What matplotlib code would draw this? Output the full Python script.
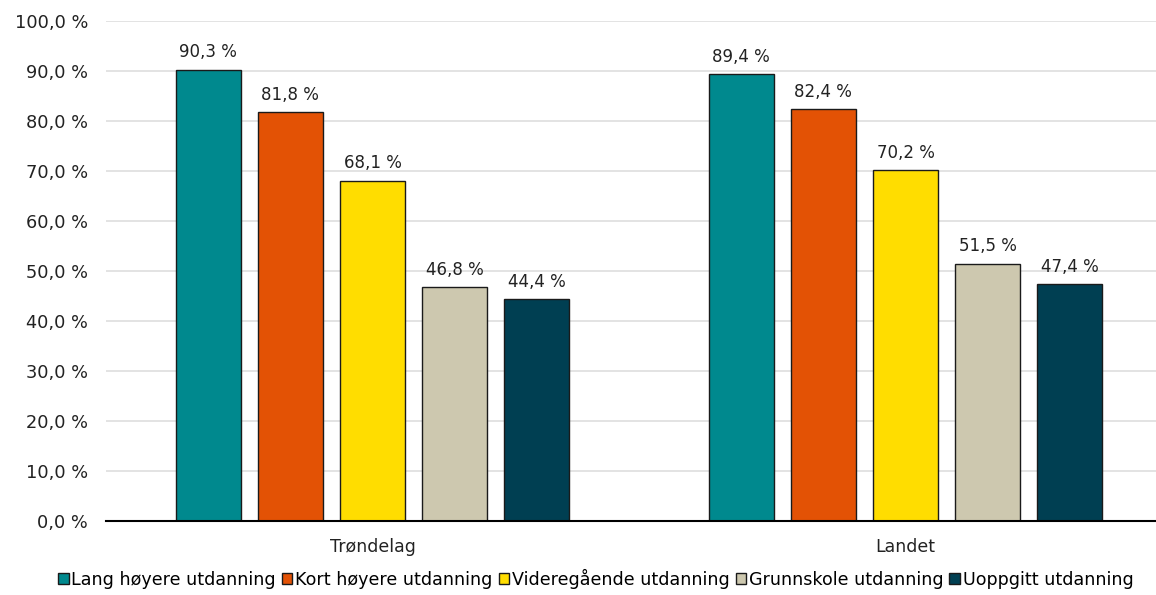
import matplotlib.pyplot as plt
import numpy as np

# Data
kategorier = ['Trøndelag', 'Landet']
serier = ['Lang høyere utdanning', 'Kort høyere utdanning', 'Videregående utdanning',
          'Grunnskole utdanning', 'Uoppgitt utdanning']
verdier = [
    [90.3, 89.4],
    [81.8, 82.4],
    [68.1, 70.2],
    [46.8, 51.5],
    [44.4, 47.4],
]
farger = ['#00898E', '#E35205', '#FFDD00', '#CDC8AF', '#003F52']

def fmt(v):
    return f'{v:.1f} %'.replace('.', ',')

fig = plt.figure(figsize=(11.56, 5.95), dpi=100)
# aksen går litt utenfor bildet til høyre, som i originalen
ax = fig.add_axes([106 / 1156, 1 - 521 / 595, 1066 / 1156, 500 / 595])

x = np.arange(len(kategorier))
bredde = 0.122
avstand = 0.154

for i, (navn, vals) in enumerate(zip(serier, verdier)):
    pos = x + (i - 2) * avstand
    bars = ax.bar(pos, vals, bredde, color=farger[i], edgecolor='#1a1a1a',
                  linewidth=1.0, label=navn, zorder=3)
    for b, v in zip(bars, vals):
        ax.annotate(fmt(v), (b.get_x() + b.get_width() / 2, v),
                    xytext=(0, 6), textcoords='offset points',
                    ha='center', va='bottom', fontsize=12, color='#222222')

ax.set_xlim(-0.5, 1.5)
ax.set_ylim(0, 100)
ax.set_yticks(np.arange(0, 101, 10))
ax.set_yticklabels([fmt(t) for t in np.arange(0, 101, 10)], fontsize=12.8, color='#222222')
ax.set_xticks(x)
ax.set_xticklabels(kategorier, fontsize=12.5, color='#222222')
ax.tick_params(axis='both', length=0)
ax.tick_params(axis='y', pad=13)
ax.tick_params(axis='x', pad=12)

ax.grid(axis='y', color='#E0E0E0', linewidth=1.3, zorder=0)
for s in ['top', 'right', 'left']:
    ax.spines[s].set_visible(False)
ax.spines['bottom'].set_linewidth(1.5)
ax.spines['bottom'].set_color('black')
ax.spines['bottom'].set_zorder(4)

ax.legend(loc='center left', bbox_to_anchor=(-0.045, -0.115), ncol=5, frameon=False,
          fontsize=12.6, handlelength=0.6, handleheight=0.6, handletextpad=0.15,
          columnspacing=0.35, borderaxespad=0, borderpad=0)

fig.savefig('out.png', dpi=100)
